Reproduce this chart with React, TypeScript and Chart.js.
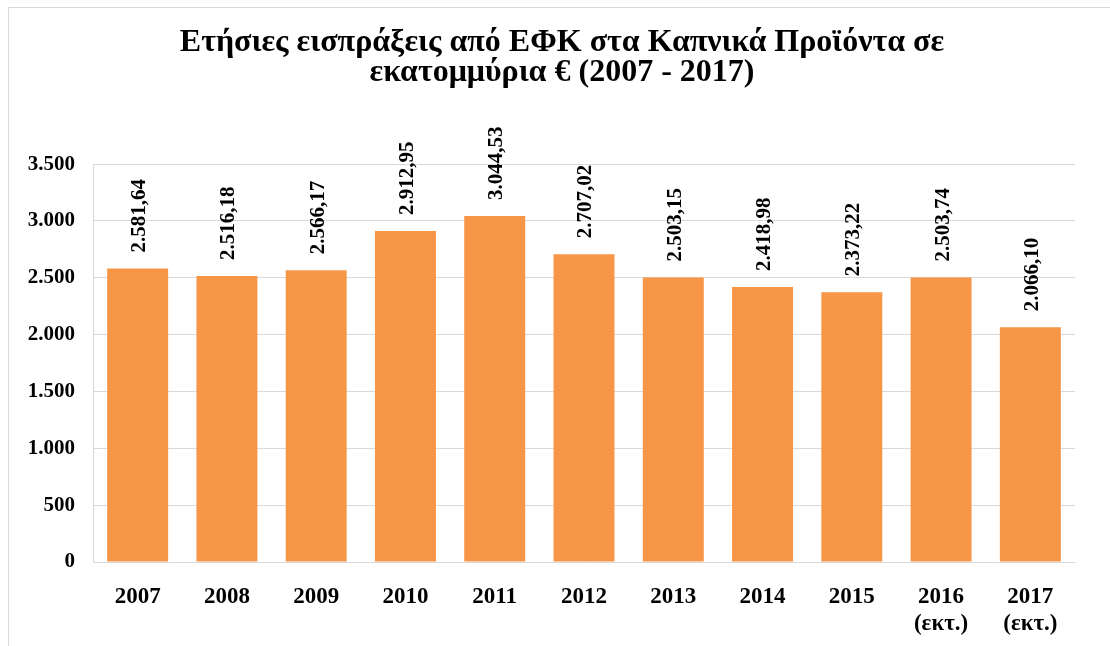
import React, { useEffect, useRef } from "react";
import { Chart, registerables } from "chart.js";

Chart.register(...registerables);

const titleLines = [
  "Ετήσιες εισπράξεις από ΕΦΚ στα Καπνικά Προϊόντα σε",
  "εκατομμύρια € (2007 - 2017)",
];

const categories: (string | string[])[] = [
  "2007",
  "2008",
  "2009",
  "2010",
  "2011",
  "2012",
  "2013",
  "2014",
  "2015",
  ["2016", "(εκτ.)"],
  ["2017", "(εκτ.)"],
];

const revenues = [
  2581.64, 2516.18, 2566.17, 2912.95, 3044.53, 2707.02, 2503.15, 2418.98,
  2373.22, 2503.74, 2066.1,
];

const yTicks = [0, 500, 1000, 1500, 2000, 2500, 3000, 3500];

const FONT = "'Liberation Serif', 'Times New Roman', serif";
const BAR_COLOR = "#F79646";
const GRID_COLOR = "#D9D9D9";

function fmtThousands(intPart: string): string {
  return intPart.replace(/\B(?=(\d{3})+(?!\d))/g, ".");
}

function fmtValue(v: number): string {
  const [i, d] = v.toFixed(2).split(".");
  return fmtThousands(i) + "," + d;
}

const valueLabelPlugin = {
  id: "valueLabels",
  afterDatasetsDraw(chart: any) {
    const ctx = chart.ctx;
    const meta = chart.getDatasetMeta(0);
    ctx.save();
    ctx.font = `bold 21px ${FONT}`;
    ctx.fillStyle = "#000000";
    ctx.textAlign = "left";
    ctx.textBaseline = "middle";
    meta.data.forEach((el: any, i: number) => {
      const v = chart.data.datasets[0].data[i];
      ctx.save();
      ctx.translate(el.x + 2, el.y - 16);
      ctx.rotate(-Math.PI / 2);
      ctx.fillText(fmtValue(v), 0, 0);
      ctx.restore();
    });
    ctx.restore();
  },
};

// Centre the title over the whole chart box rather than over the padded area
const titleCenterPlugin = {
  id: "titleCenter",
  afterLayout(chart: any) {
    const t = chart.titleBlock;
    if (t) {
      t.left = 5;
      t.right = chart.width;
      t.width = t.right - t.left;
    }
  },
};

export default function App() {
  const canvasRef = useRef<HTMLCanvasElement | null>(null);

  useEffect(() => {
    if (!canvasRef.current) return;
    const chart = new Chart(canvasRef.current, {
      type: "bar",
      data: {
        labels: categories,
        datasets: [
          {
            data: revenues,
            backgroundColor: BAR_COLOR,
            borderWidth: 0,
            barPercentage: 0.683,
            categoryPercentage: 1,
          },
        ],
      },
      options: {
        responsive: false,
        animation: false,
        devicePixelRatio: 1,
        layout: { padding: { left: 0, right: 35, top: 0, bottom: 0 } },
        plugins: {
          legend: { display: false },
          tooltip: { enabled: false },
          title: {
            display: true,
            text: titleLines,
            color: "#000000",
            font: { family: FONT, size: 32, weight: "bold", lineHeight: 0.94 },
            padding: { top: 20, bottom: 76 },
          },
        },
        scales: {
          x: {
            grid: { display: false },
            border: { display: true, color: GRID_COLOR },
            ticks: {
              color: "#000000",
              font: { family: FONT, size: 23, weight: "bold", lineHeight: 1.17 },
              padding: 14,
              maxRotation: 0,
              autoSkip: false,
            },
            afterFit: (s: any) => {
              s.height = 84;
            },
          },
          y: {
            min: 0,
            max: 3500,
            afterBuildTicks: (s: any) => {
              s.ticks = yTicks.map((v) => ({ value: v }));
            },
            grid: { color: GRID_COLOR, lineWidth: 1, drawTicks: false },
            border: { display: true, color: GRID_COLOR },
            ticks: {
              color: "#000000",
              font: { family: FONT, size: 21, weight: "bold" },
              padding: 18,
              callback: (v: any) => fmtThousands(String(v)),
            },
            afterFit: (s: any) => {
              s.width = 84;
            },
          },
        },
      },
      plugins: [titleCenterPlugin, valueLabelPlugin],
    });
    return () => chart.destroy();
  }, []);

  return (
    <div
      style={{
        position: "fixed",
        left: 8,
        top: 7,
        width: 1102,
        height: 639,
        borderLeft: `1px solid ${GRID_COLOR}`,
        borderTop: `1px solid ${GRID_COLOR}`,
        boxSizing: "border-box",
        background: "#ffffff",
      }}
    >
      <canvas
        ref={canvasRef}
        width={1101}
        height={638}
        style={{ display: "block", width: 1101, height: 638 }}
      />
    </div>
  );
}
